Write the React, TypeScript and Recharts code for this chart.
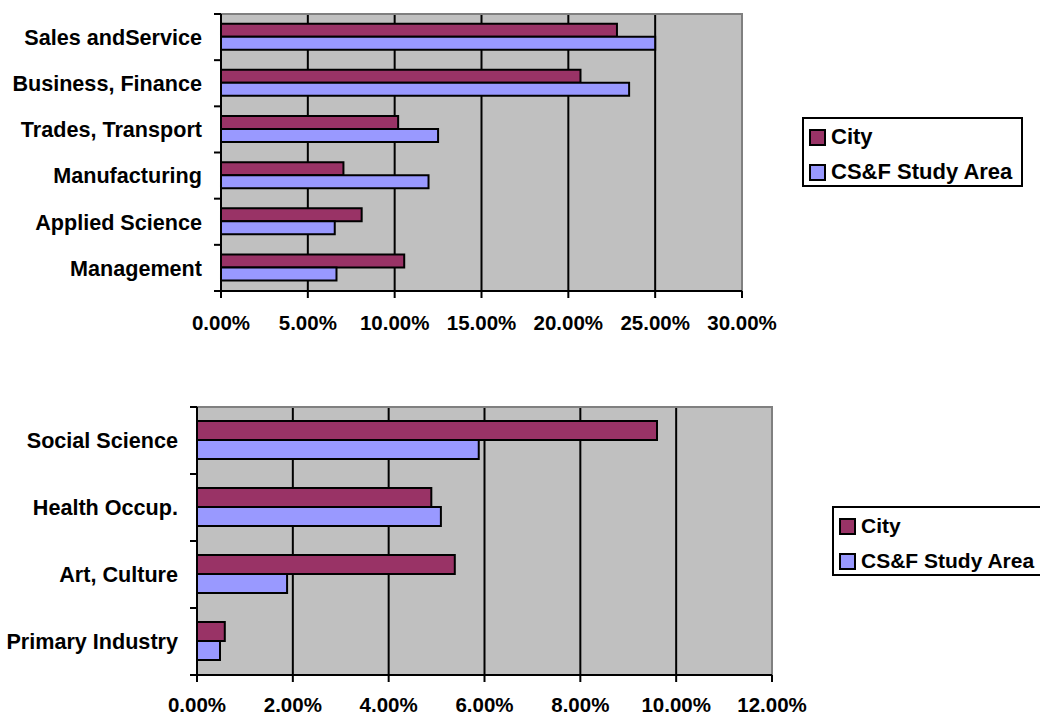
import React from 'react';
import {
    BarChart,
    Bar,
    XAxis,
    YAxis,
    CartesianGrid,
    ReferenceArea,
} from 'recharts';

// top chart
const topCategories = ['Sales andService', 'Business, Finance', 'Trades, Transport', 'Manufacturing', 'Applied Science', 'Management'];
const topCity = [22.8, 20.7, 10.2, 7.05, 8.1, 10.55];
const topStudy = [25.0, 23.5, 12.5, 11.95, 6.55, 6.65];
const topTicks = [0, 5, 10, 15, 20, 25, 30];

// bottom chart
const bottomCategories = ['Social Science', 'Health Occup.', 'Art, Culture', 'Primary Industry'];
const bottomCity = [9.6, 4.89, 5.38, 0.58];
const bottomStudy = [5.88, 5.09, 1.88, 0.48];
const bottomTicks = [0, 2, 4, 6, 8, 10, 12];

const seriesNames = ['City', 'CS&F Study Area'];
const seriesColors = ['#993366', '#9999FF'];

const FONT = '"Liberation Sans", Arial, sans-serif';

const buildRows = (cats: string[], a: number[], b: number[]) =>
    cats.map((name, i) => ({ name, city: a[i], study: b[i] }));

const fmt = (v: number) => v.toFixed(2) + '%';

// category label + tick marks on the band boundaries (Excel style)
const CategoryTick = (props: any) => {
    const { x, y, payload, index, half, count } = props;
    const axisX = x + 19;
    return (
        <g>
            <line x1={axisX - 7} x2={axisX} y1={y - half} y2={y - half} stroke="#000" strokeWidth={2} />
            {index === count - 1 && (
                <line x1={axisX - 7} x2={axisX} y1={y + half} y2={y + half} stroke="#000" strokeWidth={2} />
            )}
            <text
                x={x}
                y={y}
                dy="0.36em"
                textAnchor="end"
                fill="#000"
                style={{ fontFamily: FONT, fontSize: 21.6, fontWeight: 700 }}
            >
                {payload.value}
            </text>
        </g>
    );
};

interface PanelProps {
    rows: { name: string; city: number; study: number }[];
    ticks: number[];
    width: number;
    height: number;
    margin: { top: number; right: number; bottom: number; left: number };
    yWidth: number;
    tickMargin: number;
}

const Panel: React.FC<PanelProps> = ({ rows, ticks, width, height, margin, yWidth, tickMargin }) => {
    const plotH = height - margin.top - margin.bottom - 40;
    const half = plotH / rows.length / 2;
    const max = ticks[ticks.length - 1];
    return (
        <BarChart
            width={width}
            height={height}
            data={rows}
            layout="vertical"
            margin={margin}
            barCategoryGap="21%"
            barGap={0}
        >
            <CartesianGrid
                horizontal={false}
                stroke="#000"
                strokeWidth={2}
                fill="#C0C0C0"
                fillOpacity={1}
            />
            <ReferenceArea x1={0} x2={max} stroke="#808080" strokeWidth={2} fill="none" fillOpacity={0} ifOverflow="visible" />
            <Bar dataKey="city" name={seriesNames[0]} fill={seriesColors[0]} stroke="#000" strokeWidth={2} isAnimationActive={false} />
            <Bar dataKey="study" name={seriesNames[1]} fill={seriesColors[1]} stroke="#000" strokeWidth={2} isAnimationActive={false} />
            <XAxis
                type="number"
                domain={[0, max]}
                ticks={ticks}
                interval={0}
                height={40}
                tickFormatter={fmt}
                axisLine={{ stroke: '#000', strokeWidth: 2 }}
                tickLine={{ stroke: '#000', strokeWidth: 2 }}
                tickSize={7}
                tickMargin={tickMargin}
                tick={{ fill: '#000', fontFamily: FONT, fontSize: 20.5, fontWeight: 700 }}
            />
            <YAxis
                type="category"
                dataKey="name"
                width={yWidth}
                interval={0}
                axisLine={{ stroke: '#000', strokeWidth: 2 }}
                tickLine={false}
                tickSize={0}
                tickMargin={19}
                tick={<CategoryTick half={half} count={rows.length} />}
            />
        </BarChart>
    );
};

const LegendBox: React.FC<{ left: number; top: number; fontSize: number }> = ({ left, top, fontSize }) => (
    <div
        style={{
            position: 'absolute',
            left,
            top,
            width: 217,
            height: 66,
            border: '2px solid #000',
            background: '#fff',
            fontFamily: FONT,
            fontSize,
            fontWeight: 700,
            color: '#000',
        }}
    >
        {seriesNames.map((n, i) => (
            <div key={n} style={{ position: 'absolute', left: 5, top: 6 + i * 35, height: 24, display: 'flex', alignItems: 'center', whiteSpace: 'nowrap' }}>
                <span style={{ display: 'inline-block', width: 13, height: 13, border: '2px solid #000', background: seriesColors[i], marginRight: 5 }} />
                {n}
            </div>
        ))}
    </div>
);

export default function App() {
    const topRows = buildRows(topCategories, topCity, topStudy);
    const bottomRows = buildRows(bottomCategories, bottomCity, bottomStudy);
    return (
        <div style={{ position: 'absolute', left: 0, top: 0, width: 1040, height: 717, overflow: 'hidden', background: '#fff' }}>
            <div style={{ position: 'absolute', left: 0, top: 0 }}>
                <Panel
                    rows={topRows}
                    ticks={topTicks}
                    width={1040}
                    height={340}
                    margin={{ top: 14, right: 298, bottom: 9, left: 0 }}
                    yWidth={221}
                    tickMargin={17}
                />
            </div>
            <LegendBox left={802} top={117} fontSize={22} />
            <div style={{ position: 'absolute', left: 0, top: 380 }}>
                <Panel
                    rows={bottomRows}
                    ticks={bottomTicks}
                    width={1040}
                    height={337}
                    margin={{ top: 27, right: 268, bottom: 2, left: 0 }}
                    yWidth={197}
                    tickMargin={15}
                />
            </div>
            <LegendBox left={832} top={506} fontSize={21} />
        </div>
    );
}
